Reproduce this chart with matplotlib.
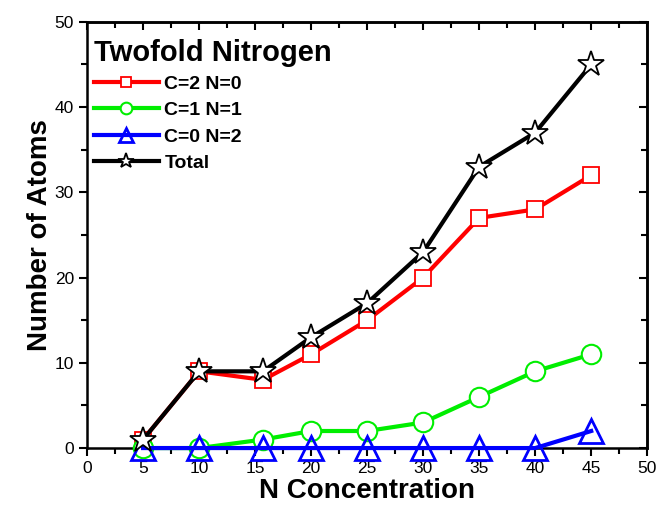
import matplotlib
matplotlib.use('Agg')
from matplotlib import pyplot as plt
from matplotlib.ticker import MultipleLocator, NullFormatter

conc = [5, 10, 15.7, 20, 25, 30, 35, 40, 45]
c2n0 = [1, 9, 8, 11, 15, 20, 27, 28, 32]
c1n1 = [0, 0, 1, 2, 2, 3, 6, 9, 11]
c0n2 = [0, 0, 0, 0, 0, 0, 0, 0, 2]
total = [1, 9, 9, 13, 17, 23, 33, 37, 45]

plt.rcParams['font.family'] = ['Liberation Sans', 'DejaVu Sans']

fig = plt.figure(figsize=(6.7, 5.08), dpi=100)
ax = fig.add_axes([0.13, 0.118, 0.836, 0.839])

ax.plot(conc, c2n0, color='red', lw=3, marker='s', ms=12, mfc='white', mew=1.3,
        label='C=2 N=0', zorder=3, clip_on=False)
ax.plot(conc, c1n1, color='#00ee00', lw=3, marker='o', ms=14, mfc='white', mew=1.5,
        label='C=1 N=1', zorder=4, clip_on=False)
ax.plot(conc, c0n2, color='blue', lw=3, marker='^', ms=17, mfc='none', mew=2,
        label='C=0 N=2', zorder=5, clip_on=False)
ax.plot(conc, total, color='black', lw=3, marker='*', ms=19, mfc='white', mew=1.3,
        label='Total', zorder=6, clip_on=False)

ax.set_xlim(0, 50)
ax.set_ylim(0, 50)
ax.xaxis.set_major_locator(MultipleLocator(5))
ax.xaxis.set_minor_locator(MultipleLocator(2.5))
ax.yaxis.set_major_locator(MultipleLocator(10))
ax.yaxis.set_minor_locator(MultipleLocator(5))
ax.tick_params(which='both', direction='out', width=1.5, labelsize=12.5)
ax.tick_params(which='major', length=6)
ax.tick_params(which='minor', length=4)
for s in ax.spines.values():
    s.set_linewidth(1.8)

# inward ticks on top and right
top = ax.secondary_xaxis('top')
top.xaxis.set_major_locator(MultipleLocator(5))
top.xaxis.set_minor_locator(MultipleLocator(2.5))
top.xaxis.set_major_formatter(NullFormatter())
right = ax.secondary_yaxis('right')
right.yaxis.set_major_locator(MultipleLocator(10))
right.yaxis.set_minor_locator(MultipleLocator(5))
right.yaxis.set_major_formatter(NullFormatter())
for sec in (top, right):
    sec.tick_params(which='both', direction='in', width=1.5)
    sec.tick_params(which='major', length=6)
    sec.tick_params(which='minor', length=4)
    for s in sec.spines.values():
        s.set_linewidth(1.8)

ax.set_xlabel("N Concentration", fontsize=20, fontweight='bold', labelpad=1)
ax.set_ylabel("Number of Atoms", fontsize=20, fontweight='bold', labelpad=1)

leg = ax.legend(loc='upper left', bbox_to_anchor=(-0.013, 0.995), frameon=False,
                title='Twofold Nitrogen', prop={'weight': 'bold', 'size': 14},
                handlelength=3.3, markerscale=0.6, borderaxespad=0.2, borderpad=0.55,
                labelspacing=0.45, handletextpad=0.3)
leg.get_title().set_fontsize(21)
leg.get_title().set_fontweight('bold')
leg._legend_box.align = 'left'

plt.savefig('out.png', dpi=100)
